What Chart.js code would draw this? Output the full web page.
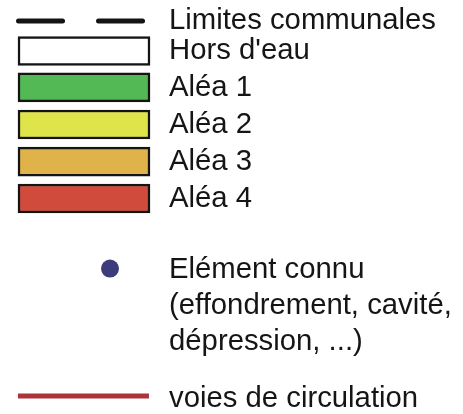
<!DOCTYPE html>
<html><head><meta charset="utf-8">
<script src="https://cdn.jsdelivr.net/npm/chart.js@4"></script>
<style>html,body{margin:0;padding:0;background:#fff}#wrap{width:463px;height:414px;position:relative}</style>
</head><body><div id="wrap"><canvas id="c"></canvas></div>
<script>
// ---- legend content (data) ----
const rowLabels = [
  'Limites communales',
  "Hors d'eau",
  'Aléa 1',
  'Aléa 2',
  'Aléa 3',
  'Aléa 4',
  ['Elément connu', '(effondrement, cavité,', 'dépression, ...)'],
  'voies de circulation'
];
const swatchRows = [1, 2, 3, 4, 5];               // rows drawn as filled boxes
const swatchColors = ['#ffffff', '#52b954', '#dfe548', '#dfb24a', '#d04b3b'];
const boundaryColor = '#141414';
const pointColor = '#3d3c7b';
const roadColor = '#ad333b';

// ---- layout (positions in legend-row units) ----
const layout = {
  rowSlot: [0, 0.813, 1.80, 2.805, 3.81, 4.81, 7.72, 10.24],
  dotSlot: 6.71,
  roadSlot: 10.16,
  yMin: -0.569, yMax: 10.65,
  xMin: -0.13636, xMax: 1.0758,
  dashFrom: 0.004, dashTo: 0.951,
  dotX: 0.697,
  roadFrom: 0, roadTo: 0.992,
  symbolWidth: 160
};

const datasets = [
  {
    type: 'bar',
    data: swatchRows.map(r => ({ x: [0, 1], y: layout.rowSlot[r] })),
    backgroundColor: swatchColors,
    borderColor: boundaryColor,
    borderWidth: 2.5,
    borderSkipped: false,
    barThickness: 29
  },
  {
    type: 'line',
    data: [{ x: layout.dashFrom, y: layout.rowSlot[0] }, { x: layout.dashTo, y: layout.rowSlot[0] }],
    borderColor: boundaryColor,
    borderWidth: 5,
    borderDash: [44, 36],
    borderCapStyle: 'round',
    pointRadius: 0,
    fill: false
  },
  {
    type: 'line',
    data: [{ x: layout.roadFrom, y: layout.roadSlot }, { x: layout.roadTo, y: layout.roadSlot }],
    borderColor: roadColor,
    borderWidth: 5,
    borderCapStyle: 'butt',
    pointRadius: 0,
    fill: false
  },
  {
    type: 'scatter',
    data: [{ x: layout.dotX, y: layout.dotSlot }],
    backgroundColor: pointColor,
    borderWidth: 0,
    pointRadius: 9
  }
];

new Chart(document.getElementById('c'), {
  type: 'bar',
  data: { datasets },
  options: {
    indexAxis: 'y',
    responsive: true,
    maintainAspectRatio: false,
    animation: false,
    devicePixelRatio: 1,
    layout: { padding: 0, autoPadding: false },
    plugins: { legend: { display: false }, tooltip: { enabled: false } },
    scales: {
      x: { type: 'linear', display: false, min: layout.xMin, max: layout.xMax },
      y: {
        type: 'linear',
        position: 'right',
        reverse: true,
        offset: false,
        min: layout.yMin, max: layout.yMax,
        grid: { display: false, drawTicks: false },
        border: { display: false },
        afterBuildTicks: s => { s.ticks = layout.rowSlot.map(v => ({ value: v })); },
        afterFit: s => {
          s.width = 463 - layout.symbolWidth;
          s.paddingTop = 0; s.paddingBottom = 0;
        },
        ticks: {
          autoSkip: false,
          padding: 9,
          crossAlign: 'near',
          color: '#151515',
          font: { family: "'Liberation Sans', Arial, sans-serif", size: 29.3, lineHeight: 1.23 },
          callback: (v, i) => rowLabels[i]
        }
      }
    }
  }
});
</script>
</body></html>
